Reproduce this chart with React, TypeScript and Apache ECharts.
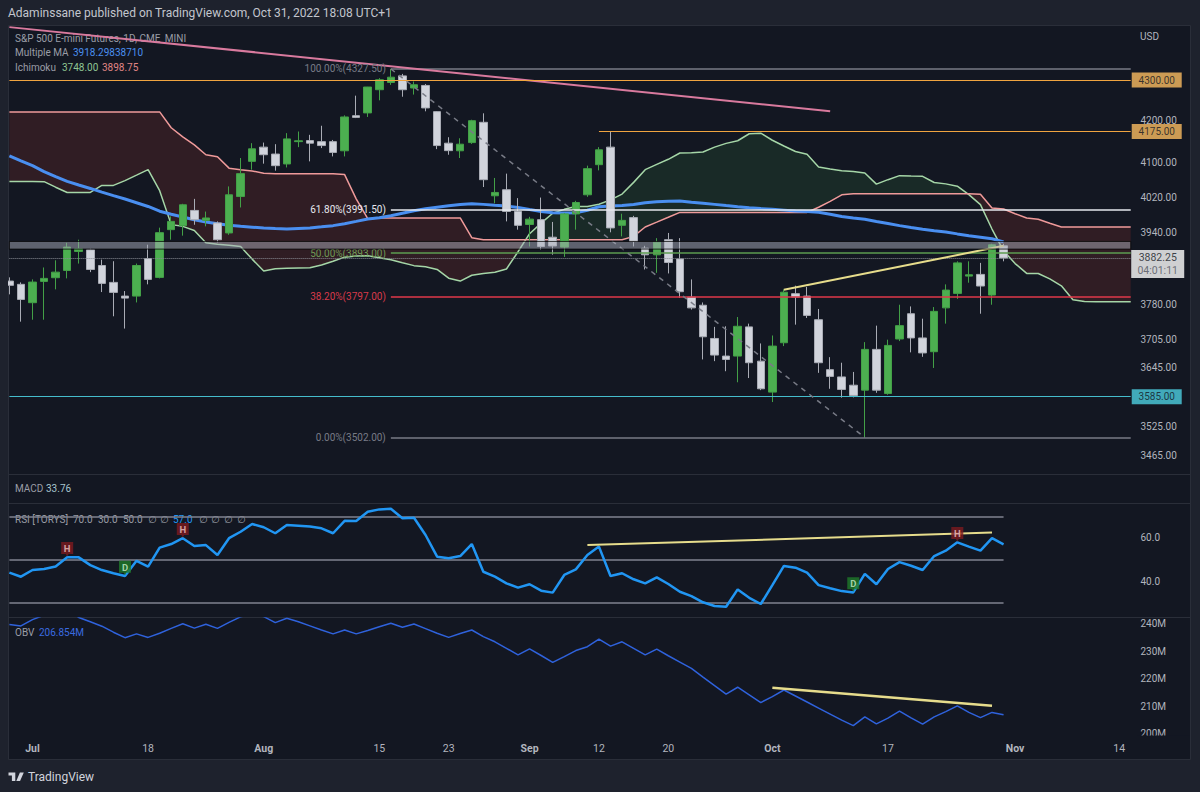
import React, { useEffect, useRef } from 'react';
import * as echarts from 'echarts';

const FONT = 'Roboto, "Noto Sans", "DejaVu Sans", sans-serif';

const dates = [
  '2022-06-29','2022-06-30',
  '2022-07-01','2022-07-05','2022-07-06','2022-07-07','2022-07-08',
  '2022-07-11','2022-07-12','2022-07-13','2022-07-14','2022-07-15',
  '2022-07-18','2022-07-19','2022-07-20','2022-07-21','2022-07-22',
  '2022-07-25','2022-07-26','2022-07-27','2022-07-28','2022-07-29',
  '2022-08-01','2022-08-02','2022-08-03','2022-08-04','2022-08-05',
  '2022-08-08','2022-08-09','2022-08-10','2022-08-11','2022-08-12',
  '2022-08-15','2022-08-16','2022-08-17','2022-08-18','2022-08-19',
  '2022-08-22','2022-08-23','2022-08-24','2022-08-25','2022-08-26',
  '2022-08-29','2022-08-30','2022-08-31',
  '2022-09-01','2022-09-02',
  '2022-09-06','2022-09-07','2022-09-08','2022-09-09',
  '2022-09-12','2022-09-13','2022-09-14','2022-09-15','2022-09-16',
  '2022-09-19','2022-09-20','2022-09-21','2022-09-22','2022-09-23',
  '2022-09-26','2022-09-27','2022-09-28','2022-09-29','2022-09-30',
  '2022-10-03','2022-10-04','2022-10-05','2022-10-06','2022-10-07',
  '2022-10-10','2022-10-11','2022-10-12','2022-10-13','2022-10-14',
  '2022-10-17','2022-10-18','2022-10-19','2022-10-20','2022-10-21',
  '2022-10-24','2022-10-25','2022-10-26','2022-10-27','2022-10-28',
  '2022-10-31',
  '2022-11-01','2022-11-02','2022-11-03','2022-11-04',
  '2022-11-07','2022-11-08','2022-11-09','2022-11-10','2022-11-11',
  '2022-11-14','2022-11-15',
];

const timeLabels: Record<string, string> = {
  '2022-07-01': 'Jul', '2022-07-18': '18', '2022-08-01': 'Aug', '2022-08-15': '15',
  '2022-08-23': '23', '2022-09-01': 'Sep', '2022-09-12': '12', '2022-09-20': '20',
  '2022-10-03': 'Oct', '2022-10-17': '17', '2022-11-01': 'Nov', '2022-11-14': '14',
};

const opens = [3831.1, 3823.9, 3783.8, 3830.4, 3838.5, 3854.5, 3896.8, 3900.5, 3865.5, 3828.2,
  3798.2, 3798.2, 3880.8, 3839.2, 3945.9, 3955.0, 3989.7, 3967.0, 3961.1, 3938.4,
  4021.7, 4103.7, 4137.4, 4121.0, 4097.6, 4150.5, 4152.9, 4150.5, 4150.5, 4128.7,
  4212.8, 4219.5, 4276.1, 4293.9, 4310.2, 4280.3, 4286.6, 4222.6, 4146.8, 4128.7,
  4148.2, 4196.8, 4023.4, 4037.4, 3987.4, 3957.6, 3968.6, 3928.8, 3906.6, 3981.8,
  4025.7, 4095.9, 4137.4, 3955.7, 3973.3, 3904.2, 3889.3, 3923.2, 3880.1, 3795.8,
  3778.3, 3706.9, 3669.6, 3669.6, 3731.6, 3658.9, 3594.4, 3697.8, 3803.5, 3798.2,
  3747.0, 3641.1, 3625.9, 3608.7, 3598.5, 3683.7, 3591.6, 3705.8, 3759.9, 3708.0,
  3678.8, 3772.6, 3804.1, 3842.0, 3845.8, 3800.4, 3909.4];
const highs = [3839.2, 3828.2, 3834.8, 3861.1, 3877.1, 3916.3, 3923.2, 3903.0, 3878.6, 3875.0,
  3809.2, 3869.8, 3911.9, 3950.4, 3976.1, 4004.9, 4016.3, 3987.1, 3964.7, 4045.1,
  4111.6, 4146.8, 4148.2, 4144.4, 4170.8, 4174.7, 4166.7, 4188.5, 4154.5, 4213.6,
  4261.5, 4283.0, 4304.6, 4327.5, 4315.1, 4296.3, 4290.0, 4224.0, 4161.0, 4158.5,
  4203.0, 4218.5, 4064.8, 4074.9, 4018.0, 3975.0, 4019.3, 3963.4, 3984.0, 4011.7,
  4093.6, 4137.4, 4175.0, 3982.2, 3977.3, 3909.4, 3926.7, 3938.4, 3926.7, 3834.7,
  3784.3, 3731.6, 3732.9, 3752.8, 3738.6, 3696.3, 3713.2, 3812.7, 3821.0, 3818.2,
  3770.2, 3667.3, 3655.6, 3636.3, 3699.1, 3734.3, 3704.3, 3779.4, 3775.7, 3749.2,
  3774.4, 3823.8, 3874.8, 3874.8, 3871.3, 3914.0, 3914.0];
const lows = [3802.0, 3742.8, 3747.0, 3747.0, 3812.9, 3837.0, 3869.8, 3850.8, 3807.0, 3754.4,
  3728.0, 3784.4, 3823.9, 3837.0, 3923.2, 3932.3, 3957.0, 3953.4, 3917.1, 3934.2,
  3996.5, 4084.2, 4098.3, 4081.9, 4089.4, 4137.4, 4103.7, 4135.1, 4115.4, 4115.4,
  4207.0, 4209.7, 4250.1, 4288.0, 4258.9, 4264.2, 4223.4, 4132.7, 4119.4, 4111.6,
  4145.1, 4043.7, 4006.5, 3964.7, 3945.9, 3908.0, 3900.5, 3889.6, 3884.5, 3945.9,
  4021.0, 4082.6, 3939.9, 3930.7, 3908.0, 3856.7, 3849.3, 3847.9, 3794.5, 3768.9,
  3662.5, 3658.9, 3637.8, 3614.8, 3623.6, 3598.5, 3574.0, 3690.7, 3736.4, 3750.7,
  3634.4, 3601.3, 3583.0, 3583.5, 3502.0, 3593.0, 3589.0, 3701.3, 3677.4, 3668.0,
  3644.6, 3738.6, 3792.1, 3827.5, 3759.9, 3779.4, 3874.8];
const closes = [3821.7, 3790.9, 3828.9, 3837.0, 3850.8, 3906.6, 3902.7, 3856.7, 3826.0, 3806.3,
  3793.8, 3865.5, 3834.8, 3939.1, 3964.7, 4002.7, 3968.6, 3972.5, 3923.2, 4025.7,
  4074.9, 4133.4, 4119.4, 4093.6, 4157.0, 4152.5, 4146.8, 4141.1, 4124.7, 4209.7,
  4208.7, 4282.7, 4300.5, 4307.0, 4276.1, 4288.3, 4231.6, 4141.1, 4129.1, 4144.4,
  4200.7, 4060.8, 4031.1, 3987.4, 3955.7, 3969.8, 3908.0, 3909.1, 3981.8, 4007.9,
  4086.6, 4131.0, 3949.8, 3967.0, 3919.3, 3889.3, 3917.5, 3872.1, 3807.8, 3772.6,
  3710.5, 3671.7, 3662.5, 3732.9, 3655.6, 3601.3, 3690.7, 3806.7, 3796.0, 3756.3,
  3655.6, 3627.0, 3599.9, 3587.6, 3683.7, 3598.5, 3692.1, 3734.3, 3708.0, 3676.2,
  3765.0, 3811.3, 3871.3, 3845.0, 3820.2, 3911.7, 3882.25];

const maValues = [4116.6, 4104.9, 4093.6, 4079.6, 4067.8, 4056.8, 4048.4, 4040.4, 4032.0, 4023.8,
  4015.9, 4007.4, 3998.8, 3987.9, 3981.1, 3974.8, 3968.6, 3963.2, 3959.5, 3955.9,
  3953.4, 3951.6, 3949.8, 3948.4, 3947.5, 3948.7, 3949.8, 3952.3, 3955.0, 3959.5,
  3964.7, 3970.2, 3973.1, 3977.7, 3983.4, 3989.0, 3993.6, 3997.0, 4000.4, 4003.1,
  4004.9, 4003.6, 4001.5, 3999.7, 3996.3, 3991.8, 3987.4, 3984.5, 3984.0, 3984.5,
  3990.2, 3998.1, 3999.9, 4000.8, 4003.1, 4007.2, 4009.5, 4010.6, 4011.3, 4008.3,
  4006.1, 4003.6, 4000.8, 3998.3, 3996.1, 3994.0, 3992.2, 3990.4, 3988.3, 3987.0,
  3985.4, 3981.1, 3975.9, 3972.5, 3969.5, 3964.5, 3960.0, 3955.0, 3950.9, 3947.0,
  3943.6, 3940.7, 3936.3, 3932.3, 3928.9, 3925.5, 3918.3];

const spanA = [4056.8, 4056.8, 4056.8, 4056.1, 4043.3, 4031.1, 4031.1, 4031.1, 4047.5, 4047.5,
  4058.7, 4071.4, 4084.2, 4035.1, 3957.3, 3953.4, 3943.9, 3916.4, 3913.0, 3910.7,
  3907.7, 3879.7, 3853.4, 3858.5, 3859.3, 3859.8, 3860.4, 3866.8, 3874.9, 3884.1,
  3886.5, 3887.1, 3882.8, 3878.2, 3871.6, 3865.2, 3862.6, 3856.7, 3837.4, 3831.1,
  3844.0, 3848.0, 3850.6, 3857.8, 3896.1, 3936.7, 3960.6, 3983.3, 3992.2, 3998.8,
  3998.8, 4003.8, 4014.0, 4027.4, 4054.5, 4084.2, 4096.6, 4108.6, 4123.4, 4124.1,
  4125.7, 4137.4, 4146.3, 4152.6, 4169.3, 4170.8, 4153.8, 4140.0, 4127.1, 4120.5,
  4090.3, 4085.8, 4081.9, 4080.0, 4076.5, 4050.5, 4060.8, 4070.2, 4069.2, 4068.5,
  4054.2, 4051.0, 4045.6, 4026.2, 4003.1, 3947.3, 3898.3, 3869.8, 3848.0, 3847.7,
  3835.9, 3820.6, 3790.2, 3786.5, 3785.8, 3785.8, 3785.8, 3785.8];
const spanB = [4221.9, 4221.9, 4221.9, 4221.9, 4221.9, 4221.9, 4221.9, 4221.9, 4221.9, 4221.9,
  4221.9, 4221.9, 4221.9, 4221.9, 4183.7, 4161.8, 4142.8, 4119.4, 4114.7, 4087.8,
  4084.2, 4081.2, 4076.0, 4074.9, 4074.9, 4074.9, 4074.9, 4074.9, 4074.9, 4072.6,
  4016.3, 3970.9, 3972.5, 3972.5, 3972.5, 3972.5, 3972.5, 3972.5, 3972.5, 3972.5,
  3927.7, 3923.2, 3923.2, 3923.2, 3923.2, 3923.2, 3923.2, 3923.2, 3923.2, 3923.2,
  3923.2, 3923.2, 3923.2, 3923.2, 3930.7, 3952.0, 3962.9, 3974.0, 3985.2, 3985.2,
  3985.2, 3985.2, 3985.2, 3985.2, 3985.2, 3985.2, 3985.2, 3985.2, 3985.2, 3985.2,
  3997.0, 4010.6, 4025.7, 4028.1, 4028.1, 4028.1, 4028.1, 4028.1, 4028.1, 4028.1,
  4028.1, 4028.1, 4028.1, 4028.1, 4026.9, 3995.2, 3992.9, 3982.2, 3972.5, 3969.7,
  3960.6, 3952.0, 3952.0, 3952.0, 3952.0, 3952.0, 3952.0, 3952.0];

const rsiValues = [43.9, 42.0, 45.1, 45.6, 46.7, 51.0, 51.0, 47.4, 45.1, 43.6,
  42.3, 49.4, 46.7, 55.5, 57.2, 59.9, 56.3, 56.7, 52.1, 59.9,
  62.9, 66.5, 65.0, 62.2, 66.0, 65.7, 65.3, 64.5, 62.2, 68.0,
  67.9, 72.2, 73.3, 73.6, 69.2, 69.4, 61.4, 51.3, 50.6, 51.6,
  57.2, 44.3, 42.0, 38.9, 36.9, 38.5, 35.5, 34.6, 42.8, 45.4,
  52.1, 56.0, 42.3, 43.6, 40.8, 38.9, 41.7, 38.6, 35.0, 33.0,
  30.1, 28.4, 28.0, 36.1, 32.2, 29.3, 38.1, 47.0, 46.2, 43.9,
  38.1, 36.6, 35.3, 34.7, 43.3, 38.5, 45.6, 48.8, 47.1, 45.1,
  51.6, 54.1, 58.0, 56.0, 54.1, 59.9, 57.0];

const obvValues = [239.8, 239.3, 241.6, 243.2, 244.3, 245.3, 242.4, 240.8, 239.2, 237.0,
  235.0, 236.4, 235.1, 236.6, 238.4, 240.1, 238.5, 239.9, 238.4, 240.6,
  242.6, 243.7, 242.7, 240.5, 242.1, 240.8, 239.3, 237.8, 236.4, 237.8,
  236.4, 237.6, 239.0, 240.3, 238.8, 240.0, 238.3, 236.6, 235.1, 236.5,
  237.8, 235.4, 233.5, 231.1, 228.7, 230.9, 228.5, 226.0, 228.1, 230.3,
  231.7, 234.5, 231.9, 233.5, 231.1, 228.7, 230.8, 228.4, 226.1, 223.8,
  220.6, 217.5, 214.4, 216.9, 214.1, 211.3, 213.5, 215.9, 213.7, 211.5,
  209.3, 207.1, 204.9, 202.9, 206.1, 203.5, 205.6, 208.2, 205.7, 203.4,
  206.1, 208.0, 210.1, 207.7, 205.8, 207.7, 206.854];

const priceTicks = [4200, 4100, 4020, 3940, 3780, 3705, 3645, 3525, 3465];
const rsiTicks = [40, 60];
const rsiLevels = [70, 50, 30];
const obvTicks = [200, 210, 220, 230, 240];

const fibRatios = ['100.00%', '61.80%', '50.00%', '38.20%', '0.00%'];
const fibPrices = [4327.5, 3991.5, 3893.0, 3797.0, 3502.0];
const fibStart = '2022-08-16';
const fibEnd = '2022-10-13';

const level4300 = 4300;
const level4175 = 4175;
const level4175Start = '2022-09-12';
const level3585 = 3585;
const lastPrice = 3882.25;
const countdown = '04:01:11';
const bandHigh = 3919.3;
const bandLow = 3902.1;

const pinkTrend: [string, number][] = [['2022-06-29', 4432.6], ['2022-10-10', 4223.7]];
const priceTrend: [string, number][] = [['2022-10-04', 3812.2], ['2022-10-31', 3909.4]];
const rsiTrend: [string, number][] = [['2022-09-09', 56.7], ['2022-10-28', 62.5]];
const obvTrend: [string, number][] = [['2022-10-03', 216.7], ['2022-10-28', 210.15]];
const rsiHighMarks = ['2022-07-07', '2022-07-21', '2022-10-25'];
const rsiDivMarks = ['2022-07-14', '2022-10-12'];

echarts.graphic.registerShape(
  'tvlogo',
  echarts.graphic.extendPath('M0 0H8V10H4V3.6H0Z M13.4 0H18L13.6 10H9.2Z', {}) as any
);

function buildOption(): any {
  const L = Math.log;
  const firstCat = dates[0];
  const lastCat = dates[dates.length - 1];
  const lastBar = dates[closes.length - 1];
  const LA = spanA.map(L);
  const LB = spanB.map(L);
  const candleData = opens.map((o, i) => [L(o), L(closes[i]), L(lows[i]), L(highs[i])]);
  const CLOUD_UP = 'rgba(67,160,71,0.14)';
  const CLOUD_DOWN = 'rgba(244,67,54,0.13)';
  const GRID_L = 3.6;
  const GRID_W = 1132.9;
  const gray = '#9a9da6';
  const axisText = '#b2b5be';
  const orange = '#f0a440';

  const hLine = (start: string, price: number, color: string, width = 1, type: any = 'solid', label: any = { show: false }) => [
    { coord: [start, L(price)], lineStyle: { color, width, type }, label },
    { coord: [lastCat, L(price)], lineStyle: { color, width, type } },
  ];
  const seg = (pts: [string, number][], color: string, width: number, type: any = 'solid', tf = (v: number) => v) => [
    { coord: [pts[0][0], tf(pts[0][1])], lineStyle: { color, width, type } },
    { coord: [pts[1][0], tf(pts[1][1])], lineStyle: { color, width, type } },
  ];

  const fibColors = ['#787b86', '#e6e8ee', '#5d9c50', '#e0394a', '#787b86'];
  const fibLabelColors = ['#787b86', '#e6e8ee', '#6f9a55', '#d83a4a', '#787b86'];
  const fibLines = fibPrices.map((p, k) =>
    hLine(fibStart, p, fibColors[k], 1.5, 'solid', {
      show: true, position: 'start', distance: 5,
      formatter: `${fibRatios[k]}(${p.toFixed(2)})`,
      color: fibLabelColors[k], fontSize: 10, fontFamily: FONT,
    })
  );

  const tag = (price: number, text: string, bg: string) => ({
    value: [lastCat, L(price)],
    symbol: 'rect', symbolSize: [50, 15], symbolOffset: [26, 0],
    itemStyle: { color: bg },
    label: { formatter: text },
  });

  const xBase = (gridIndex: number, showLabels: boolean) => ({
    type: 'category', gridIndex, data: dates, boundaryGap: true,
    axisLine: { show: false }, axisTick: { show: false }, splitLine: { show: false },
    axisLabel: showLabels ? {
      show: true, margin: 3, color: axisText, fontSize: 10.5, fontFamily: FONT,
      interval: (_i: number, v: string) => timeLabels[v] !== undefined,
      formatter: (v: string) => {
        const t = timeLabels[v] || '';
        return /[A-Za-z]/.test(t) ? `{m|${t}}` : t;
      },
      rich: { m: { fontWeight: 'bold', color: axisText, fontSize: 10.5, fontFamily: FONT } },
    } : { show: false },
  });

  const markerItem = (d: string, txt: string, bg: string, fg: string) => ({
    value: [d, rsiValues[dates.indexOf(d)]],
    itemStyle: { color: bg },
    label: { formatter: txt, color: fg },
  });

  const txt = (x: number, y: number, text: string, fill: string, size = 10, extra: any = {}) => ({
    type: 'text', x, y, silent: true,
    style: { text, fill, fontSize: size, fontFamily: FONT, verticalAlign: 'middle', ...extra },
  });
  const sep = (y: number) => ({
    type: 'line', silent: true, shape: { x1: 8, y1: y, x2: 1191, y2: y },
    style: { stroke: '#2a2e39', lineWidth: 1 },
  });

  const noLabel = { show: false };

  return {
    animation: false,
    backgroundColor: '#1e222d',
    grid: [
      { left: GRID_L, top: 25, width: GRID_W, height: 449 },
      { left: GRID_L, top: 504, width: GRID_W, height: 113 },
      { left: GRID_L, top: 618, width: GRID_W, height: 122 },
    ],
    xAxis: [xBase(0, false), xBase(1, false), xBase(2, true)],
    yAxis: [
      {
        type: 'value', gridIndex: 0, position: 'right', min: L(3429.3), max: L(4438.0), scale: true,
        axisLine: { show: false }, axisTick: { show: false }, splitLine: { show: false },
        axisLabel: {
          margin: 4, color: axisText, fontSize: 10, fontFamily: FONT,
          customValues: priceTicks.map(L),
          formatter: (v: number) => Math.exp(v).toFixed(2),
        },
      },
      {
        type: 'value', gridIndex: 1, position: 'right', min: 23.26, max: 75.81,
        axisLine: { show: false }, axisTick: { show: false }, splitLine: { show: false },
        axisLabel: {
          margin: 4, color: axisText, fontSize: 10, fontFamily: FONT,
          customValues: rsiTicks, formatter: (v: number) => v.toFixed(1),
        },
      },
      {
        type: 'value', gridIndex: 2, position: 'right', min: 197.63, max: 242.19,
        axisLine: { show: false }, axisTick: { show: false }, splitLine: { show: false },
        axisLabel: {
          margin: 4, color: axisText, fontSize: 10, fontFamily: FONT,
          customValues: obvTicks, formatter: (v: number) => `${v}M`,
        },
      },
    ],
    series: [
      {
        name: 'cloud', type: 'custom', xAxisIndex: 0, yAxisIndex: 0, silent: true, z: 1,
        data: [[0, LA[0]]],
        renderItem: (_p: any, api: any) => {
          const PA = LA.map((v, i) => api.coord([i, v]));
          const PB = LB.map((v, i) => api.coord([i, v]));
          const d = LA.map((v, i) => v - LB[i]);
          const children: any[] = [];
          const push = (top: number[][], bot: number[][], up: boolean) => children.push({
            type: 'polygon', shape: { points: top.concat(bot.slice().reverse()) },
            style: { fill: up ? CLOUD_UP : CLOUD_DOWN },
          });
          let top = [PA[0]];
          let bot = [PB[0]];
          let sign = d[0] >= 0;
          for (let i = 1; i < PA.length; i++) {
            const s = d[i] >= 0;
            if (s !== sign) {
              const t = d[i - 1] / (d[i - 1] - d[i]);
              const X = [PA[i - 1][0] + (PA[i][0] - PA[i - 1][0]) * t, PA[i - 1][1] + (PA[i][1] - PA[i - 1][1]) * t];
              top.push(X);
              push(top, bot, sign);
              top = [X]; bot = []; sign = s;
            }
            top.push(PA[i]); bot.push(PB[i]);
          }
          push(top, bot, sign);
          return { type: 'group', children };
        },
      },
      {
        name: 'Lead 1', type: 'line', xAxisIndex: 0, yAxisIndex: 0, data: LA, symbol: 'none', z: 2, silent: true,
        lineStyle: { color: '#a5d6a7', width: 1.5 },
      },
      {
        name: 'Lead 2', type: 'line', xAxisIndex: 0, yAxisIndex: 0, data: LB, symbol: 'none', z: 2, silent: true,
        lineStyle: { color: '#ef9a9a', width: 1.5 },
        markArea: {
          silent: true, z: 6,
          itemStyle: { color: 'rgba(170,173,185,0.5)', borderColor: 'rgba(0,0,0,0.75)', borderWidth: 1 },
          data: [[{ coord: [firstCat, L(bandHigh)] }, { coord: [lastCat, L(bandLow)] }]],
        },
      },
      {
        name: 'Multiple MA', type: 'line', xAxisIndex: 0, yAxisIndex: 0, data: maValues.map(L), symbol: 'none', z: 3, silent: true,
        lineStyle: { color: '#4a8ff0', width: 3 },
      },
      {
        name: 'ES', type: 'candlestick', xAxisIndex: 0, yAxisIndex: 0, data: candleData, z: 4, barWidth: 8, silent: true,
        itemStyle: { color: '#4caf50', borderColor: '#43a047', color0: '#d1d4dc', borderColor0: '#a9acb5', borderWidth: 1 },
        markLine: {
          silent: true, symbol: ['none', 'none'], animation: false, label: noLabel,
          data: [
            hLine(firstCat, level3585, '#45bccc', 1),
            hLine(firstCat, lastPrice, '#8a8d96', 1, 'dotted'),
            ...fibLines,
            seg([[fibStart, fibPrices[0]], [fibEnd, fibPrices[4]]], '#787b86', 1.5, [5, 5], L),
            seg(pinkTrend, '#d97a9e', 2, 'solid', L),
            seg(priceTrend, '#e6dc8c', 2, 'solid', L),
          ],
        },
      },
      {
        name: 'Levels', type: 'line', xAxisIndex: 0, yAxisIndex: 0, data: [], silent: true, z: 5,
        markLine: {
          silent: true, symbol: ['none', 'none'], animation: false, label: noLabel,
          lineStyle: { color: orange, width: 1.2, type: 'solid' },
          data: [
            hLine(firstCat, level4300, orange, 1.2),
            hLine(level4175Start, level4175, orange, 1.2),
          ],
        },
      },
      {
        name: 'tags', type: 'scatter', xAxisIndex: 0, yAxisIndex: 0, z: 10, clip: false, silent: true,
        label: { show: true, position: 'inside', color: '#131722', fontSize: 10, fontFamily: FONT },
        data: [
          tag(level4300, '4300.00', '#fbbd62'),
          tag(level4175, '4175.00', '#fbbd62'),
          tag(level3585, '3585.00', '#4dd0e1'),
          {
            value: [lastCat, L(lastPrice)], symbol: 'rect', symbolSize: [53, 28], symbolOffset: [27, 6],
            itemStyle: { color: '#ffffff' },
            label: {
              formatter: `{p|${lastPrice.toFixed(2)}}\n{t|${countdown}}`,
              rich: {
                p: { color: '#131722', fontSize: 10.5, lineHeight: 13, fontFamily: FONT },
                t: { color: '#50535e', fontSize: 10.5, lineHeight: 13, fontFamily: FONT },
              },
            },
          },
        ],
      },
      {
        name: 'RSI levels', type: 'line', xAxisIndex: 1, yAxisIndex: 1, data: [], silent: true,
        markLine: {
          silent: true, symbol: ['none', 'none'], z: 1, label: noLabel,
          data: rsiLevels.map((v) => [
            { coord: [firstCat, v], lineStyle: { color: '#808390', width: 1.5, type: 'solid' } },
            { coord: [lastBar, v], lineStyle: { color: '#808390', width: 1.5, type: 'solid' } },
          ]),
        },
      },
      {
        name: 'RSI', type: 'line', xAxisIndex: 1, yAxisIndex: 1, data: rsiValues, symbol: 'none', z: 3, silent: true,
        lineStyle: { color: '#2196f3', width: 2.5 },
        markLine: {
          silent: true, symbol: ['none', 'none'], label: noLabel,
          data: [seg(rsiTrend, '#e6dc8c', 2)],
        },
      },
      {
        name: 'RSI marks', type: 'scatter', xAxisIndex: 1, yAxisIndex: 1, z: 6, silent: true, clip: false,
        symbol: 'path://M0,0 H12 V12 H7.4 L6,14.5 L4.6,12 H0 Z', symbolSize: [12, 14.5], symbolOffset: [0, -8],
        label: { show: true, position: 'inside', offset: [0, -1], fontSize: 9.5, fontWeight: 'bold', fontFamily: FONT },
        data: [
          ...rsiHighMarks.map((d) => markerItem(d, 'H', '#7d1a1f', '#f0c4c4')),
          ...rsiDivMarks.map((d) => markerItem(d, 'D', '#1f7a2b', '#c8f0c8')),
        ],
      },
      {
        name: 'OBV', type: 'line', xAxisIndex: 2, yAxisIndex: 2, data: obvValues, symbol: 'none', z: 3, silent: true,
        lineStyle: { color: '#2f62dc', width: 1.5 },
        markLine: {
          silent: true, symbol: ['none', 'none'], label: noLabel,
          data: [seg(obvTrend, '#e6dc8c', 2.5)],
        },
      },
    ],
    graphic: [
      { type: 'rect', z: -10, silent: true, shape: { x: 8.5, y: 25.5, width: 1182, height: 734 }, style: { fill: '#131722', stroke: '#2a2e39', lineWidth: 1 } },
      sep(474.5), sep(503.5), sep(617.5),
      { type: 'rect', z: 100, silent: true, shape: { x: 0, y: 25, width: 8, height: 736 }, style: { fill: '#1e222d' } },
      { type: 'rect', z: 100, silent: true, shape: { x: 1137, y: 735.5, width: 53, height: 23.5 }, style: { fill: '#131722' } },
      txt(8, 13, 'Adaminssane published on TradingView.com, Oct 31, 2022 18:08 UTC+1', '#c3c6ce', 12),
      txt(15, 38, 'S&P 500 E-mini Futures, 1D, CME_MINI', gray),
      txt(15, 52, 'Multiple MA', gray),
      txt(73, 52, '3918.29838710', '#4a8ff0'),
      txt(15, 67, 'Ichimoku', gray),
      txt(62, 67, '3748.00', '#8fc593'),
      txt(102, 67, '3898.75', '#e08585'),
      txt(1140, 36, 'USD', axisText, 10),
      txt(15, 488, 'MACD', gray),
      txt(46, 488, '33.76', '#a8c6cf'),
      txt(15, 519, 'RSI [TORYS]', gray),
      txt(73, 519, '70.0', gray),
      txt(98, 519, '30.0', gray),
      txt(123, 519, '50.0', gray),
      txt(148, 519, '∅', gray),
      txt(160, 519, '∅', gray),
      txt(173, 519, '57.0', '#2196f3'),
      txt(199, 519, '∅', gray),
      txt(211, 519, '∅', gray),
      txt(224, 519, '∅', gray),
      txt(237, 519, '∅', gray),
      txt(15, 632, 'OBV', gray),
      txt(39, 632, '206.854M', '#3a6be0'),
      { type: 'tvlogo', x: 8.5, y: 772.5, scaleX: 0.85, scaleY: 0.85, silent: true, style: { fill: '#d1d4dc' } },
      { type: 'circle', silent: true, shape: { cx: 18.7, cy: 774.1, r: 1.5 }, style: { fill: '#d1d4dc' } },
      txt(28, 777, 'TradingView', '#d1d4dc', 12),
    ],
  };
}

export default function App() {
  const ref = useRef<HTMLDivElement>(null);
  useEffect(() => {
    if (!ref.current) return;
    const chart = echarts.init(ref.current, null, { renderer: 'svg' });
    chart.setOption(buildOption());
    return () => chart.dispose();
  }, []);
  return <div ref={ref} style={{ position: 'fixed', left: 0, top: 0, width: 1200, height: 792 }} />;
}
